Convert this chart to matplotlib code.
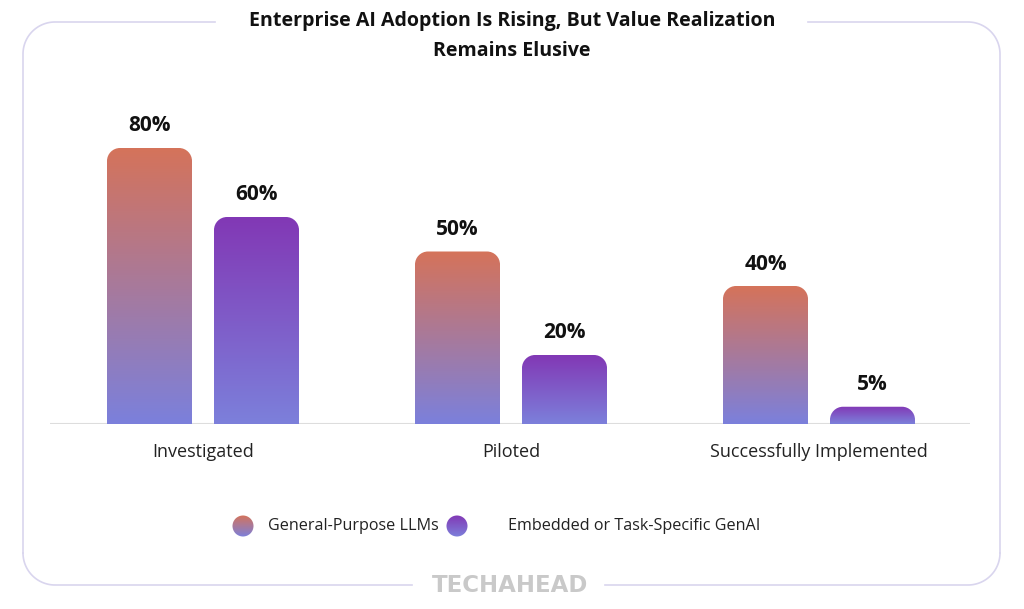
import numpy as np
import matplotlib
matplotlib.use("Agg")
import matplotlib.pyplot as plt
from matplotlib.path import Path
from matplotlib.patches import PathPatch, Circle
from matplotlib.colors import LinearSegmentedColormap

categories = ["Investigated", "Piloted", "Successfully Implemented"]
series_names = ["General-Purpose LLMs", "Embedded or Task-Specific GenAI"]
general_llms = [80, 50, 40]
embedded_genai = [60, 20, 5]
value_labels = [["80%", "50%", "40%"], ["60%", "20%", "5%"]]
title = "Enterprise AI Adoption Is Rising, But Value Realization\nRemains Elusive"

grad_colors = [("#D5735A", "#7B80DC"), ("#8238B5", "#7C80DB")]

W, H = 1024, 609
fig = plt.figure(figsize=(W / 100, H / 100), dpi=100)
fig.patch.set_facecolor("white")

# overlay in pixel coords
ov = fig.add_axes([0, 0, 1, 1], zorder=0)
ov.set_xlim(0, W)
ov.set_ylim(H, 0)
ov.axis("off")

FONT = ["Open Sans", "DejaVu Sans"]
fc = "#D9D5EE"
L, R, T, B, r = 23, 1000, 22, 585, 32
def arc(cx, cy, a0, a1):
    t = np.linspace(np.radians(a0), np.radians(a1), 30)
    return cx + r * np.cos(t), cy + r * np.sin(t)
xs, ys = arc(L + r, T + r, 180, 270)
ov.plot(np.r_[L, xs, 215], np.r_[B - r, ys, T], color=fc, lw=1.2)
xs, ys = arc(R - r, T + r, 270, 360)
ov.plot(np.r_[808, xs, R], np.r_[T, ys, B - r], color=fc, lw=1.2)
xs, ys = arc(R - r, B - r, 0, 90)
ov.plot(np.r_[R, xs, 605], np.r_[B - r, ys, B], color=fc, lw=1.2)
xs, ys = arc(L + r, B - r, 90, 180)
ov.plot(np.r_[412, xs, L], np.r_[B, ys, B - r], color=fc, lw=1.2)

ov.text(512, 36, title, ha="center", va="center", fontsize=14.1, fontweight="bold",
        family=FONT, color="#111111", linespacing=1.7)
ov.text(510, 585, "TECHAHEAD", ha="center", va="center", fontsize=16.5,
        fontweight="bold", family=["DejaVu Sans"], color="#C9C9C9")

# main axes
px_per_unit = 3.45
ax_left, ax_right, ax_base, ax_top = 50, 970, 424, 100
ax = fig.add_axes([ax_left / W, (H - ax_base) / H, (ax_right - ax_left) / W,
                   (ax_base - ax_top) / H], zorder=1)
ax.patch.set_alpha(0)
gpx = 308
for s in ax.spines.values():
    s.set_visible(False)
ax.axhline(0, color="#DDDDDD", lw=1.5, zorder=1)
ax.set_yticks([])
x = np.arange(len(categories))
ax.set_xticks(x)
ax.set_xticklabels(categories, fontsize=13, family=FONT, color="#222222")
ax.tick_params(axis="x", length=0, pad=14)

bw = 85 / gpx
off = 53.5 / gpx
rx = 13 / gpx
ry = 13 / px_per_unit
grad = np.linspace(0, 1, 256).reshape(-1, 1)

def rounded_top(x0, x1, h):
    k = 0.5523
    verts = [(x0, 0), (x0, h - ry),
             (x0, h - ry + k * ry), (x0 + rx - k * rx, h), (x0 + rx, h),
             (x1 - rx, h),
             (x1 - rx + k * rx, h), (x1, h - ry + k * ry), (x1, h - ry),
             (x1, 0), (x0, 0)]
    codes = [Path.MOVETO, Path.LINETO, Path.CURVE4, Path.CURVE4, Path.CURVE4,
             Path.LINETO, Path.CURVE4, Path.CURVE4, Path.CURVE4, Path.LINETO,
             Path.CLOSEPOLY]
    return Path(verts, codes)

for si, vals in enumerate([general_llms, embedded_genai]):
    cmap = LinearSegmentedColormap.from_list("g%d" % si, [grad_colors[si][1], grad_colors[si][0]])
    for i, v in enumerate(vals):
        cx = x[i] + (-off if si == 0 else off)
        x0, x1 = cx - bw / 2, cx + bw / 2
        patch = PathPatch(rounded_top(x0, x1, v), facecolor="none", edgecolor="none")
        ax.add_patch(patch)
        im = ax.imshow(grad, cmap=cmap, aspect="auto", extent=(x0, x1, 0, v),
                       origin="lower", zorder=2, interpolation="bicubic")
        im.set_clip_path(patch)
        ax.text(cx, v + 22 / px_per_unit, value_labels[si][i], ha="center", va="center",
                fontsize=15, fontweight="bold", family=FONT, color="#111111")
ax.set_xlim(-(203 - ax_left) / gpx, 2 + (ax_right - 819) / gpx)
ax.set_ylim(0, (ax_base - ax_top) / px_per_unit)

# legend
leg = [(243, 526, 0, 268), (457, 526, 1, 508)]
for cxp, cyp, si, tx in leg:
    cmap = LinearSegmentedColormap.from_list("l%d" % si, [grad_colors[si][1], grad_colors[si][0]])
    c = Circle((cxp, cyp), 10.5, facecolor="none", edgecolor="none")
    ov.add_patch(c)
    im = ov.imshow(grad, cmap=cmap, aspect="auto", extent=(cxp - 11, cxp + 11, cyp + 11, cyp - 11),
                   origin="lower", interpolation="bicubic")
    im.set_clip_path(c)
    ov.text(tx, cyp, series_names[si], ha="left", va="center", fontsize=11.6,
            family=FONT, color="#222222")
ov.set_xlim(0, W)
ov.set_ylim(H, 0)

fig.savefig("out.png", dpi=100, facecolor="white")
